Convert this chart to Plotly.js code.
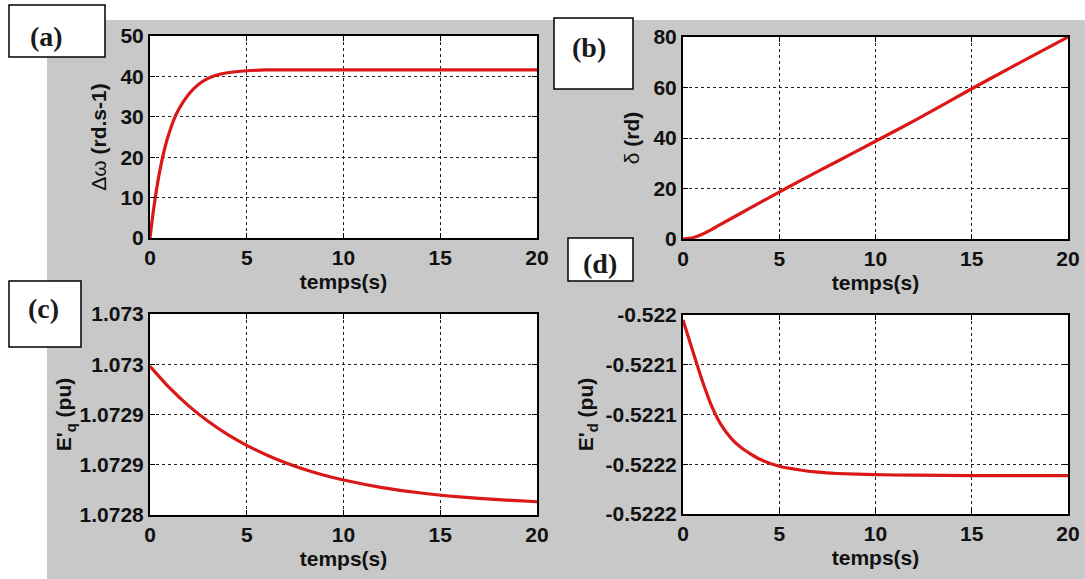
<!DOCTYPE html>
<html>
<head>
<meta charset="utf-8">
<script src="https://cdn.plot.ly/plotly-3.0.1.min.js"></script>
<style>html,body{margin:0;padding:0;background:#fff}#chart{width:1085px;height:579px}</style>
</head>
<body>
<div id="chart"></div>
<script>
// ---- data ----
const tA = [0, 0.1, 0.25, 0.5, 0.75, 1, 1.25, 1.5, 2, 2.5, 3, 3.5, 4, 5, 6, 8, 10, 12, 15, 20];
const dOmega = [0, 4.0, 9.3, 16.5, 22.0, 26.2, 29.5, 32.0, 35.6, 38.0, 39.5, 40.4, 40.9, 41.4, 41.6, 41.6, 41.6, 41.6, 41.6, 41.6];

const tB = [0, 0.5, 1, 1.5, 2, 3, 4, 5, 6, 8, 10, 12, 15, 17, 20];
const delta = [0, 0.5, 1.9, 3.8, 6.0, 10.2, 14.4, 18.6, 22.7, 30.7, 38.7, 46.8, 59.5, 67.8, 80];

const tC = [0, 1, 2, 3, 4, 5, 6, 7, 8, 9, 10, 12, 14, 16, 18, 20];
const Eq = [1.072948, 1.0729267, 1.0729086, 1.0728933, 1.0728803, 1.0728693, 1.07286, 1.072852, 1.0728453, 1.0728396, 1.0728348, 1.0728273, 1.0728219, 1.072818, 1.0728152, 1.0728132];

const tD = [0, 0.5, 1, 1.5, 2, 2.5, 3, 3.5, 4, 5, 6, 7, 8, 10, 12, 15, 20];
const Ed = [-0.522005, -0.522036, -0.522066, -0.522092, -0.522111, -0.522124, -0.522133, -0.5221395, -0.522145, -0.522152, -0.5221555, -0.522158, -0.5221593, -0.5221605, -0.522161, -0.5221614, -0.5221614];

const xTicks = [0, 5, 10, 15, 20];
const yTicksA = [0, 10, 20, 30, 40, 50];
const yTicksB = [0, 20, 40, 60, 80];
const yTicksC = [1.0728, 1.07285, 1.0729, 1.07295, 1.073];
const yTickTextC = ["1.0728", "1.0729", "1.0729", "1.073", "1.073"];
const yTicksD = [-0.5222, -0.52215, -0.5221, -0.52205, -0.522];
const yTickTextD = ["-0.5222", "-0.5222", "-0.5221", "-0.5221", "-0.522"];

const panelLabels = ["(a)", "(b)", "(c)", "(d)"];
const xTitle = "temps(s)";
const yTitles = ["Δω <b>(rd.s-1)</b>", "δ <b>(rd)</b>", "<b>E'<sub>q</sub> (pu)</b>", "<b>E'<sub>d</sub> (pu)</b>"];

// ---- figure ----
const W = 1085, H = 579;
const px = v => v / W;
const py = v => 1 - v / H;
const FONT = "Liberation Sans, Arial, sans-serif";
const RED = "rgb(218,24,24)";

const traceStyle = {mode: "lines", line: {color: RED, width: 3.2, shape: "spline", smoothing: 0.5}, hoverinfo: "x+y", showlegend: false};
const traces = [
  Object.assign({x: tA, y: dOmega, xaxis: "x", yaxis: "y"}, traceStyle),
  Object.assign({x: tB, y: delta, xaxis: "x2", yaxis: "y2"}, traceStyle),
  Object.assign({x: tC, y: Eq, xaxis: "x3", yaxis: "y3"}, traceStyle),
  Object.assign({x: tD, y: Ed, xaxis: "x4", yaxis: "y4"}, traceStyle)
];

function xax(dom, anchor) {
  return {
    domain: dom, anchor: anchor, range: [0, 20], tickvals: xTicks,
    showline: true, linecolor: "#000", linewidth: 2, mirror: "ticks",
    ticks: "inside", ticklen: 5, tickcolor: "#000",
    showgrid: true, gridcolor: "#222", griddash: "dot", gridwidth: 1,
    zeroline: false,
    tickfont: {family: FONT, size: 21, color: "#111", weight: "bold"},
    title: {text: xTitle, standoff: 6, font: {family: FONT, size: 21, color: "#111", weight: "bold"}}
  };
}
function yax(dom, anchor, range, vals, text, title, standoff) {
  const a = {
    domain: dom, anchor: anchor, range: range, tickvals: vals,
    showline: true, linecolor: "#000", linewidth: 2, mirror: "ticks",
    ticks: "inside", ticklen: 5, tickcolor: "#000",
    showgrid: true, gridcolor: "#222", griddash: "dot", gridwidth: 1,
    zeroline: false,
    tickfont: {family: FONT, size: 21, color: "#111", weight: "bold"},
    title: {text: title, standoff: standoff, font: {family: FONT, size: 21, color: "#111"}}
  };
  if (text) a.ticktext = text;
  return a;
}

const xL = [px(150), px(537)], xR = [px(683), px(1068)];
const yTop = [py(238), py(36)], yBot = [py(515), py(314)];
const yTopB = [py(239), py(37)], yBotD = [py(514), py(315)];

const shapes = [
  {type: "rect", xref: "paper", yref: "paper", x0: 0, x1: 1, y0: py(20), y1: 1, fillcolor: "#fff", line: {width: 0}, layer: "below"},
  {type: "rect", xref: "paper", yref: "paper", x0: 0, x1: px(47), y0: 0, y1: 1, fillcolor: "#fff", line: {width: 0}, layer: "below"}
];
const boxes = [[9, 105, 5, 57], [554, 633, 18, 89], [9, 81, 281, 347], [568, 633, 238, 281]];
boxes.forEach(b => shapes.push({type: "rect", xref: "paper", yref: "paper", x0: px(b[0]), x1: px(b[1]), y0: py(b[3]), y1: py(b[2]), fillcolor: "#fff", line: {color: "#000", width: 1.5}, layer: "above"}));

const labelPos = [[46, 37], [589, 48], [43, 308], [600, 263]];
const annotations = panelLabels.map((t, i) => ({
  text: "<b>" + t + "</b>", xref: "paper", yref: "paper", x: px(labelPos[i][0]), y: py(labelPos[i][1]),
  xanchor: "center", yanchor: "middle", showarrow: false,
  font: {family: "Liberation Serif, Times New Roman, serif", size: 28, color: "#1a1a1a"}
}));

const layout = {
  width: W, height: H, autosize: false,
  margin: {l: 0, r: 0, t: 0, b: 0, pad: 0},
  paper_bgcolor: "rgb(200,200,200)", plot_bgcolor: "#fff",
  showlegend: false,
  xaxis: xax(xL, "y"), yaxis: yax(yTop, "x", [0, 50], yTicksA, null, yTitles[0], 8),
  xaxis2: xax(xR, "y2"), yaxis2: yax(yTopB, "x2", [0, 80], yTicksB, null, yTitles[1], 8),
  xaxis3: xax(xL, "y3"), yaxis3: yax(yBot, "x3", [1.0728, 1.073], yTicksC, yTickTextC, yTitles[2], 2),
  xaxis4: xax(xR, "y4"), yaxis4: yax(yBotD, "x4", [-0.5222, -0.522], yTicksD, yTickTextD, yTitles[3], 6),
  shapes: shapes, annotations: annotations
};

Plotly.newPlot("chart", traces, layout, {staticPlot: true, displayModeBar: false});
</script>
</body>
</html>
